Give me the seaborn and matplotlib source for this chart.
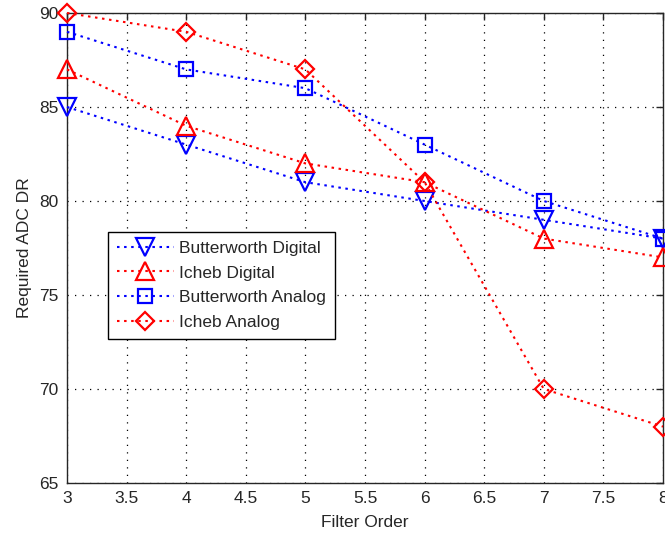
import matplotlib
matplotlib.use("Agg")
import matplotlib.pyplot as plt
import seaborn as sns
import pandas as pd

# Required ADC dynamic range versus filter order
filter_order = [3, 4, 5, 6, 7, 8]
butterworth_digital = [85, 83, 81, 80, 79, 78]
icheb_digital = [87, 84, 82, 81, 78, 77]
butterworth_analog = [89, 87, 86, 83, 80, 78]
icheb_analog = [90, 89, 87, 81, 70, 68]

series_names = ["Butterworth Digital", "Icheb Digital", "Butterworth Analog", "Icheb Analog"]
series_values = [butterworth_digital, icheb_digital, butterworth_analog, icheb_analog]

x_ticks = [3, 3.5, 4, 4.5, 5, 5.5, 6, 6.5, 7, 7.5, 8]
x_tick_labels = ["3", "3.5", "4", "4.5", "5", "5.5", "6", "6.5", "7", "7.5", "8"]
y_ticks = [65, 70, 75, 80, 85, 90]

sns.set_style("white")
plt.rcParams["font.family"] = ["Liberation Sans", "DejaVu Sans"]
plt.rcParams["font.size"] = 12.5

styles = {
    "Butterworth Digital": dict(color="#0000ff", marker="v", markersize=13),
    "Icheb Digital": dict(color="#ff0000", marker="^", markersize=13),
    "Butterworth Analog": dict(color="#0000ff", marker="s", markersize=10),
    "Icheb Analog": dict(color="#ff0000", marker="D", markersize=9.5),
}
dotted = (0, (1.2, 2.2))

fig = plt.figure(figsize=(6.65, 5.36), dpi=100)
ax = fig.add_axes([67 / 665, 1 - 483 / 536, 596 / 665, 470 / 536])

for name, vals in zip(series_names, series_values):
    df = pd.DataFrame({"Filter Order": filter_order, "DR": vals})
    st = styles[name]
    sns.lineplot(
        data=df, x="Filter Order", y="DR", ax=ax, label=name,
        color=st["color"], marker=st["marker"], markersize=st["markersize"],
        markerfacecolor="none", markeredgecolor=st["color"], markeredgewidth=1.6,
        linestyle=dotted, linewidth=1.5, clip_on=False, zorder=3,
    )

ax.set_xlim(3, 8)
ax.set_ylim(65, 90)
ax.set_xticks(x_ticks)
ax.set_xticklabels(x_tick_labels)
ax.set_yticks(y_ticks)
ax.grid(True, color="black", linestyle=(0, (1, 5)), linewidth=0.9)
ax.tick_params(direction="in", length=5, width=1, top=True, right=True,
               labelsize=12.5, colors="#262626", pad=6)
for sp in ax.spines.values():
    sp.set_visible(True)
    sp.set_color("#262626")
    sp.set_linewidth(1.0)

ax.set_xlabel("Filter Order", fontsize=12.5, color="#262626", labelpad=6)
ax.set_ylabel("Required ADC DR", fontsize=12.5, color="#262626", labelpad=5)

leg = ax.legend(loc="upper left", bbox_to_anchor=(41 / 596, 251 / 470),
                frameon=True, fancybox=False, edgecolor="black", framealpha=1,
                handlelength=3.3, handletextpad=0.3, borderpad=0.5,
                labelspacing=0.55, borderaxespad=0, fontsize=12.5)
leg.get_frame().set_linewidth(1.0)

fig.savefig("out.png", dpi=100)
